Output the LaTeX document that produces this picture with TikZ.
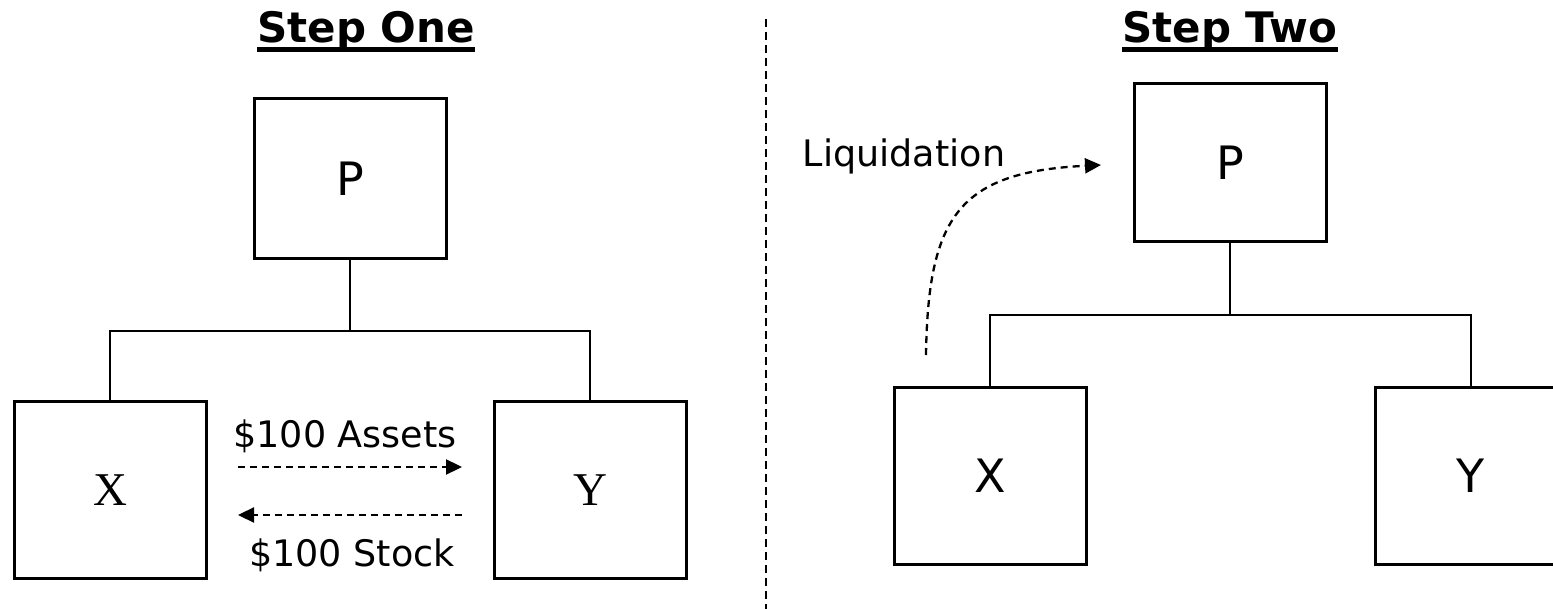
\documentclass[tikz,border=0pt]{standalone}
\usepackage{fontspec}
\setmainfont{DejaVu Sans}
\newfontfamily\timesfont{Liberation Serif}
\usetikzlibrary{arrows.meta}

\tikzset{
  entity/.style={draw,line width=3pt,minimum width=192pt,inner sep=0pt,font=\fontsize{46}{54}\selectfont},
  steptitle/.style={anchor=base,inner sep=0pt,font=\fontsize{42}{50}\selectfont\bfseries},
  flowlabel/.style={anchor=base,inner sep=0pt},
  branch/.style={line width=2.5pt},
  flow/.style={line width=2.3pt,dash pattern=on 7pt off 5pt,-{Triangle[length=16pt,width=15pt]}},
}

\begin{document}
\begin{tikzpicture}[x=1pt,y=-1pt,font=\fontsize{36.5}{44}\selectfont]
\path[use as bounding box,clip] (0,0) rectangle (1553,609);
% divider
\coordinate (divtop) at (766,19);
\coordinate (divbot) at (766,609);
\draw[line width=2.4pt,dash pattern=on 8pt off 5pt] (divtop) -- (divbot);

% step one
\node[steptitle] (titleone) at (366,43) {Step One};
\draw[line width=5pt] ([yshift=-6.5pt]titleone.base west) -- ([yshift=-6.5pt]titleone.base east);
\node[entity,minimum height=160pt] (Pone) at (350,179) {P};
\node[entity,minimum height=176pt,font=\fontsize{47}{54}\timesfont] (Xone) at (110,490) {X};
\node[entity,minimum height=176pt,font=\fontsize{47}{54}\timesfont] (Yone) at (590,490) {Y};
\coordinate (jone) at (350,331);
\draw[branch] (Pone.south) -- (jone);
\draw[branch] (Xone.north) |- (jone) -| (Yone.north);
\node[flowlabel] (assets) at (345,447) {\$100 Assets};
\node[flowlabel] (stock) at (352,566) {\$100 Stock};
\coordinate (assetsfrom) at (238,467);
\coordinate (assetsto) at (462,467);
\coordinate (stockfrom) at (462,515);
\coordinate (stockto) at (238,515);
\draw[flow] (assetsfrom) -- (assetsto);
\draw[flow] (stockfrom) -- (stockto);

% step two
\node[steptitle] (titletwo) at (1230,43) {Step Two};
\draw[line width=5pt] ([yshift=-6.5pt]titletwo.base west) -- ([yshift=-6.5pt]titletwo.base east);
\node[entity,minimum height=158pt] (Ptwo) at (1230,163) {P};
\node[entity,minimum height=177pt] (Xtwo) at (990,476) {X};
\node[entity,minimum height=177pt] (Ytwo) at (1471,476) {Y};
\coordinate (jtwo) at (1230,315);
\draw[branch] (Ptwo.south) -- (jtwo);
\draw[branch] (Xtwo.north) |- (jtwo) -| (Ytwo.north);
\node[flowlabel] (liq) at (904,167) {Liquidation};
\coordinate (liqfrom) at (926,355);
\coordinate (liqto) at (1101,165);
\draw[flow] (liqfrom) .. controls (928,215) and (960,172) .. (liqto);
\end{tikzpicture}
\end{document}
